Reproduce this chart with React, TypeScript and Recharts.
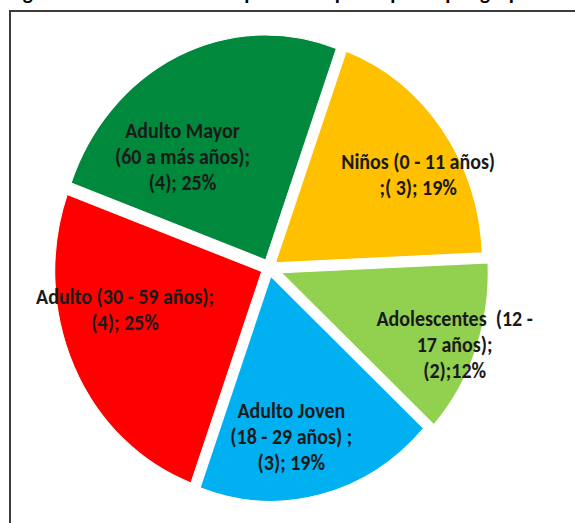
import React from "react";
import { PieChart, Pie, Cell, Sector } from "recharts";

// ---- data ----
const categories = [
  "Niños (0 - 11 años)",
  "Adolescentes (12 - 17 años)",
  "Adulto Joven (18 - 29 años)",
  "Adulto (30 - 59 años)",
  "Adulto Mayor (60 a más años)",
];
const counts = [3, 2, 3, 4, 4];
const labelLines = [
  ["Niños (0 - 11 años)", ";( 3); 19%"],
  ["Adolescentes  (12 -", "17 años);", "(2);12%"],
  ["Adulto Joven", "(18 - 29 años) ;", "(3); 19%"],
  ["Adulto (30 - 59 años);", "(4); 25%"],
  ["Adulto Mayor", "(60 a más años);", "(4); 25%"],
];
const colors = ["#FFC000", "#92D050", "#00B0F0", "#FF0000", "#00893C"];
const TITLE = "Figura 1. Distribución de la población participante por grupo etario";

// ---- layout / style ----
const SY = 1.087; // vertical stretch of the original picture
const EXPLODE = [8, 13, 8, 8, 8];
const LABEL_LAYOUT: [number, number][] = [
  [0.83, 6.5],
  [0.96, 0.9],
  [0.76, 5.6],
  [0.72, 10],
  [0.646, -15.3],
];
const FONT = "Carlito, Calibri, Roboto, 'Liberation Sans', sans-serif";

const data = categories.map((name, i) => ({ name, value: counts[i] }));

const RAD = Math.PI / 180;

const renderShape = (props: any) => {
  const { cx, cy, midAngle, index } = props;
  const d = EXPLODE[index] ?? 8;
  const t = (90 - midAngle) * RAD;
  return (
    <Sector
      {...props}
      cx={cx + d * Math.sin(t)}
      cy={cy - d * Math.cos(t)}
      fill={colors[index]}
      stroke="#fff"
      strokeWidth={1}
    />
  );
};

const renderLabel = (props: any) => {
  const { cx, cy, midAngle, outerRadius, index } = props;
  const [frac, nudge] = LABEL_LAYOUT[index];
  const t = (90 - midAngle + nudge) * RAD;
  const r = outerRadius * frac;
  const x = cx + r * Math.sin(t);
  const y = cy - r * Math.cos(t);
  const lines = labelLines[index];
  const lh = 24;
  const y0 = y - ((lines.length - 1) * lh) / 2;
  return (
    <text
      key={"lbl" + index}
      x={x}
      y={y0}
      textAnchor="middle"
      dominantBaseline="central"
      fill="#1a1a1a"
      fontWeight="bold"
      fontSize={20}
      fontFamily={FONT}
      style={{ whiteSpace: "pre" }}
    >
      {lines.map((l, i) => (
        <tspan key={i} x={x} y={y0 + i * lh} dominantBaseline="central">
          {l}
        </tspan>
      ))}
    </text>
  );
};

export default function App() {
  return (
    <div
      style={{
        position: "absolute",
        left: 0,
        top: 0,
        width: 575,
        height: 523,
        overflow: "hidden",
        background: "#fff",
      }}
    >
      <div
        style={{
          position: "absolute",
          left: 8,
          top: -17,
          fontFamily: FONT,
          fontWeight: "bold",
          fontSize: 21,
          lineHeight: "21px",
          whiteSpace: "nowrap",
          color: "#000",
        }}
      >
        {TITLE}
      </div>
      <div
        style={{
          position: "absolute",
          left: 9,
          top: 10,
          width: 700,
          height: 700,
          borderLeft: "2px solid #3c3c3c",
          borderTop: "2px solid #3c3c3c",
        }}
      />
      <div
        style={{
          position: "absolute",
          left: 0,
          top: 0,
          transform: `scaleY(${SY})`,
          transformOrigin: "0 0",
        }}
      >
        <PieChart
          width={575}
          height={481}
          margin={{ top: 0, right: 0, bottom: 0, left: 0 }}
        >
          <Pie
            data={data}
            dataKey="value"
            nameKey="name"
            cx={269}
            cy={246.4}
            outerRadius={207}
            startAngle={70}
            endAngle={-290}
            stroke="#fff"
            isAnimationActive={false}
            shape={renderShape}
            label={renderLabel}
            labelLine={false}
          >
            {data.map((_, i) => (
              <Cell key={i} fill={colors[i]} />
            ))}
          </Pie>
        </PieChart>
      </div>
    </div>
  );
}
